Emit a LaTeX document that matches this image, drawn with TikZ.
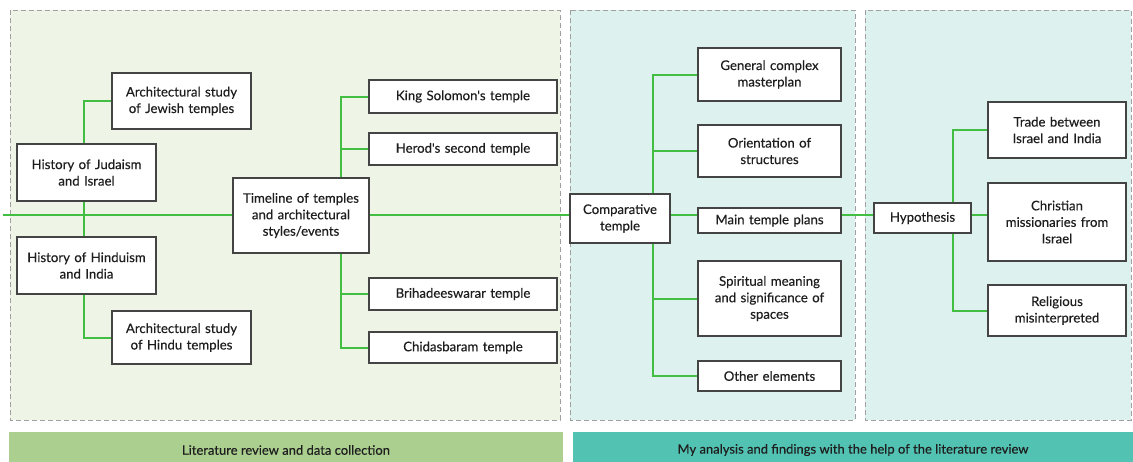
\documentclass[tikz,border=0pt]{standalone}
\usepackage{fontspec}
\setmainfont{Lato}
\newfontfamily\diagfont{Lato}[FakeBold=0.35]
\usetikzlibrary{positioning}
\pgfdeclarelayer{background}
\pgfdeclarelayer{edges}
\pgfsetlayers{background,edges,main}
\definecolor{litfill}{HTML}{EEF5E6}
\definecolor{anafill}{HTML}{DDF2EF}
\definecolor{litband}{HTML}{ABCF8F}
\definecolor{anaband}{HTML}{52C3B3}
\definecolor{linkgreen}{HTML}{42BE42}
\definecolor{boxline}{HTML}{444444}
\definecolor{panelline}{HTML}{A0A0A0}
\definecolor{textdark}{HTML}{1E1E1E}
\tikzstyle{topic} = [draw=boxline, fill=white, line width=1.1pt, align=center, inner sep=0pt, text=textdark, font=\diagfont\fontsize{13.2}{16.5}\selectfont]
\tikzstyle{link} = [draw, line width=2pt, color=linkgreen]
\tikzstyle{panel} = [draw=panelline, dash pattern=on 5pt off 3pt, line width=1pt]
\tikzstyle{band} = [inner sep=0pt, text=textdark, font=\diagfont\fontsize{13}{16}\selectfont]
\newcommand{\topic}[4]{node (#1) [topic, text width=#2pt, minimum height=#3pt] {#4}}
\newcommand{\stage}[5]{%
\begin{pgfonlayer}{background}
\path[panel, fill=#5] (#1,#2) rectangle (#3,#4);
\end{pgfonlayer}}

\begin{document}
\begin{tikzpicture}[x=1pt,y=-1pt]
\useasboundingbox (0,0) rectangle (1133,461);
% Literature review
\path (181.5,101) \topic{ajew}{139}{56}{Architectural study\\ of Jewish temples};
\path (86.5,172.5) \topic{hjud}{139}{57}{History of Judaism\\ and Israel};
\path (86.5,265.5) \topic{hhin}{139}{57}{History of Hinduism\\ and India};
\path (181.5,337.5) \topic{ahin}{139}{53}{Architectural study\\ of Hindu temples};
\path (301,215.5) \topic{time}{136}{75}{Timeline of temples\\ and architectural\\ styles/events};
\path (463,96.5) \topic{king}{188}{33}{King Solomon's temple};
\path (463,149) \topic{herod}{188}{32}{Herod's second temple};
\path (463,294) \topic{brih}{188}{32}{Brihadeeswarar temple};
\path (463,347.5) \topic{chid}{188}{31}{Chidasbaram temple};

% Analysis
\path (620,218.5) \topic{comp}{100}{49}{Comparative\\ temple};
\path (769.5,74.5) \topic{gen}{143}{53}{General complex\\ masterplan};
\path (769.5,151) \topic{orie}{143}{52}{Orientation of\\ structures};
\path (769.5,220.5) \topic{main}{143}{25}{Main temple plans};
\path (769.5,298.5) \topic{spir}{143}{75}{Spiritual meaning\\ and significance of\\ spaces};
\path (769.5,376) \topic{other}{143}{30}{Other elements};

% Findings
\path (922.5,218) \topic{hyp}{97}{30}{Hypothesis};
\path (1057,130) \topic{trade}{138}{56}{Trade between\\ Israel and India};
\path (1057,222) \topic{chri}{138}{78}{Christian\\ missionaries from\\ Israel};
\path (1057,310.5) \topic{reli}{138}{51}{Religious\\ misinterpreted};

% Connectors
\begin{pgfonlayer}{edges}
\coordinate (start) at (3,215);
\coordinate (lbus) at (84,215);
\coordinate (tbus) at (341,215);
\coordinate (cbus) at (653,215);
\coordinate (hbus) at (953,215);
\draw[link] (start) -- (chri.west |- start);
\draw[link] (ajew.west) -| (lbus) |- (ahin.west);
\draw[link] (king.west) -| (tbus) |- (chid.west);
\draw[link] (herod.west) -| (tbus);
\draw[link] (brih.west) -| (tbus);
\draw[link] (gen.west) -| (cbus) |- (other.west);
\draw[link] (orie.west) -| (cbus);
\draw[link] (spir.west) -| (cbus);
\draw[link] (trade.west) -| (hbus) |- (reli.west);
\end{pgfonlayer}

% Panels and bands
\stage{10}{10}{560}{420}{litfill}
\stage{570}{10}{855}{420}{anafill}
\stage{865}{10}{1131}{420}{anafill}
\begin{pgfonlayer}{background}
\path[fill=litband] (9,432) rectangle (563,475);
\path[fill=anaband] (573,432) rectangle (1140,475);
\end{pgfonlayer}
\node (lband) [band] at (286,450) {Literature review and data collection};
\node (aband) [band] at (853,450) {My analysis and findings with the help of the literature review};
\end{tikzpicture}
\end{document}
